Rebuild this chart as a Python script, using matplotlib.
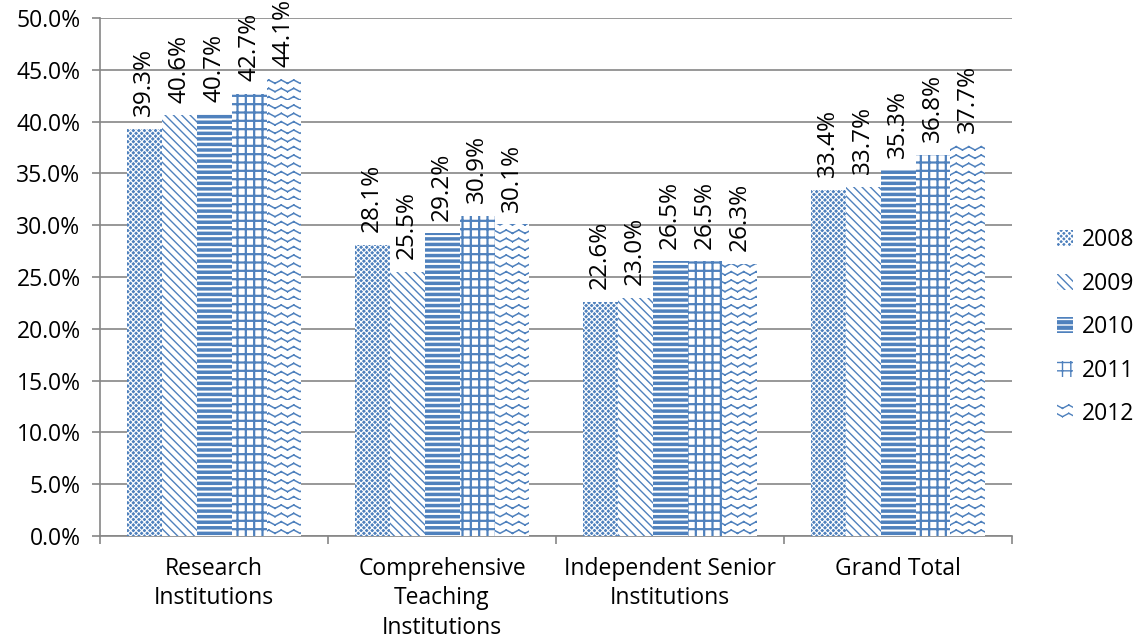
import warnings
import numpy as np
import matplotlib
matplotlib.use("Agg")
import matplotlib.pyplot as plt
import matplotlib.hatch as mhatch
from matplotlib.path import Path
from matplotlib.patches import Patch
from matplotlib.ticker import PercentFormatter

warnings.filterwarnings("ignore")

categories = ["Research\nInstitutions", "Comprehensive\nTeaching\nInstitutions",
              "Independent Senior\nInstitutions", "Grand Total"]
years = ["2008", "2009", "2010", "2011", "2012"]
values = {
    "2008": [39.3, 28.1, 22.6, 33.4],
    "2009": [40.6, 25.5, 23.0, 33.7],
    "2010": [40.7, 29.2, 26.5, 35.3],
    "2011": [42.7, 30.9, 26.5, 36.8],
    "2012": [44.1, 30.1, 26.3, 37.7],
}

NPER = 8  # zigzag periods per hatch tile


# zigzag hatch for the 2012 series ('w' in the hatch string);
# every stroke is its own segment so agg does not fill it
class ZigZagHatch(mhatch.HatchPatternBase):
    def __init__(self, hatch, density):
        self.num_lines = int(hatch.count('w') * density)
        self.num_vertices = self.num_lines * NPER * 2 * 2

    def set_vertices_and_codes(self, vertices, codes):
        steps, step = np.linspace(0.0, 1.0, self.num_lines, False, retstep=True)
        amp = step * 0.4
        nseg = NPER * 2
        idx = 0
        for y in steps:
            for s in range(nseg):
                x0, x1 = s / nseg, (s + 1) / nseg
                y0 = y + (amp if s % 2 else 0.0)
                y1 = y + (0.0 if s % 2 else amp)
                vertices[idx] = (x0, y0)
                vertices[idx + 1] = (x1, y1)
                codes[idx] = Path.MOVETO
                codes[idx + 1] = Path.LINETO
                idx += 2


mhatch._hatch_types.append(ZigZagHatch)

BLUE = "#4F81BD"
styles = {
    "2008": dict(face=BLUE, hatch_col="white", hatch="xxxxxx", lw=0.8),
    "2009": dict(face="white", hatch_col=BLUE, hatch="\\\\\\\\", lw=1.0),
    "2010": dict(face=BLUE, hatch_col="white", hatch="---", lw=1.5),
    "2011": dict(face="white", hatch_col=BLUE, hatch="++", lw=1.6),
    "2012": dict(face="white", hatch_col=BLUE, hatch="ww", lw=1.1),
}

plt.rcParams['font.family'] = ['Open Sans', 'DejaVu Sans']
FS = 16.5
fig = plt.figure(figsize=(11.39, 6.39), dpi=100)
ax = fig.add_axes([0.0878, 0.1612, 0.8007, 0.8106])

x = np.arange(len(categories))
width = 0.1535
handles = []
for i, yr in enumerate(years):
    st = styles[yr]
    offs = (i - 2) * width
    with plt.rc_context({'hatch.linewidth': st["lw"]}):
        bars = ax.bar(x + offs, values[yr], width, color=st["face"],
                      edgecolor=st["hatch_col"], linewidth=0, hatch=st["hatch"],
                      zorder=3)
        for b in bars:
            if hasattr(b, "set_hatch_linewidth"):
                b.set_hatch_linewidth(st["lw"])
        h = Patch(facecolor=st["face"], edgecolor=st["hatch_col"],
                  linewidth=0, hatch=st["hatch"], label=yr)
        if hasattr(h, "set_hatch_linewidth"):
            h.set_hatch_linewidth(st["lw"])
        handles.append(h)
    for xi, v in zip(x + offs, values[yr]):
        ax.annotate(f"{v:.1f}%", (xi, v), xytext=(0, 9), textcoords="offset points",
                    rotation=90, ha="center", va="bottom", fontsize=17.5)

ax.set_ylim(0, 50)
ax.set_xlim(-0.5, 3.5)
ax.set_yticks(np.arange(0, 50.1, 5))
ax.yaxis.set_major_formatter(PercentFormatter(decimals=1))
ax.set_xticks(x)
ax.set_xticklabels(categories, fontsize=FS, linespacing=1.3)
ax.set_xticks(np.arange(-0.5, 3.6, 1), minor=True)
ax.tick_params(axis="x", which="major", length=0, pad=15)
ax.tick_params(axis="x", which="minor", length=6, color="#868686", width=1.2)
ax.tick_params(axis="y", length=6, color="#868686", width=1.2, labelsize=FS, pad=8)
ax.yaxis.grid(True, color="#868686", linewidth=1.2, zorder=0)
for s in ["top", "right"]:
    ax.spines[s].set_visible(False)
for s in ["left", "bottom"]:
    ax.spines[s].set_color("#868686")
    ax.spines[s].set_linewidth(1.2)

leg = fig.legend(handles=handles, loc="center left", bbox_to_anchor=(0.918, 0.488),
                 frameon=False, fontsize=FS, handlelength=0.7, handleheight=0.7,
                 handletextpad=0.4, labelspacing=0.85, borderpad=0)

fig.savefig("out.png", dpi=100)
